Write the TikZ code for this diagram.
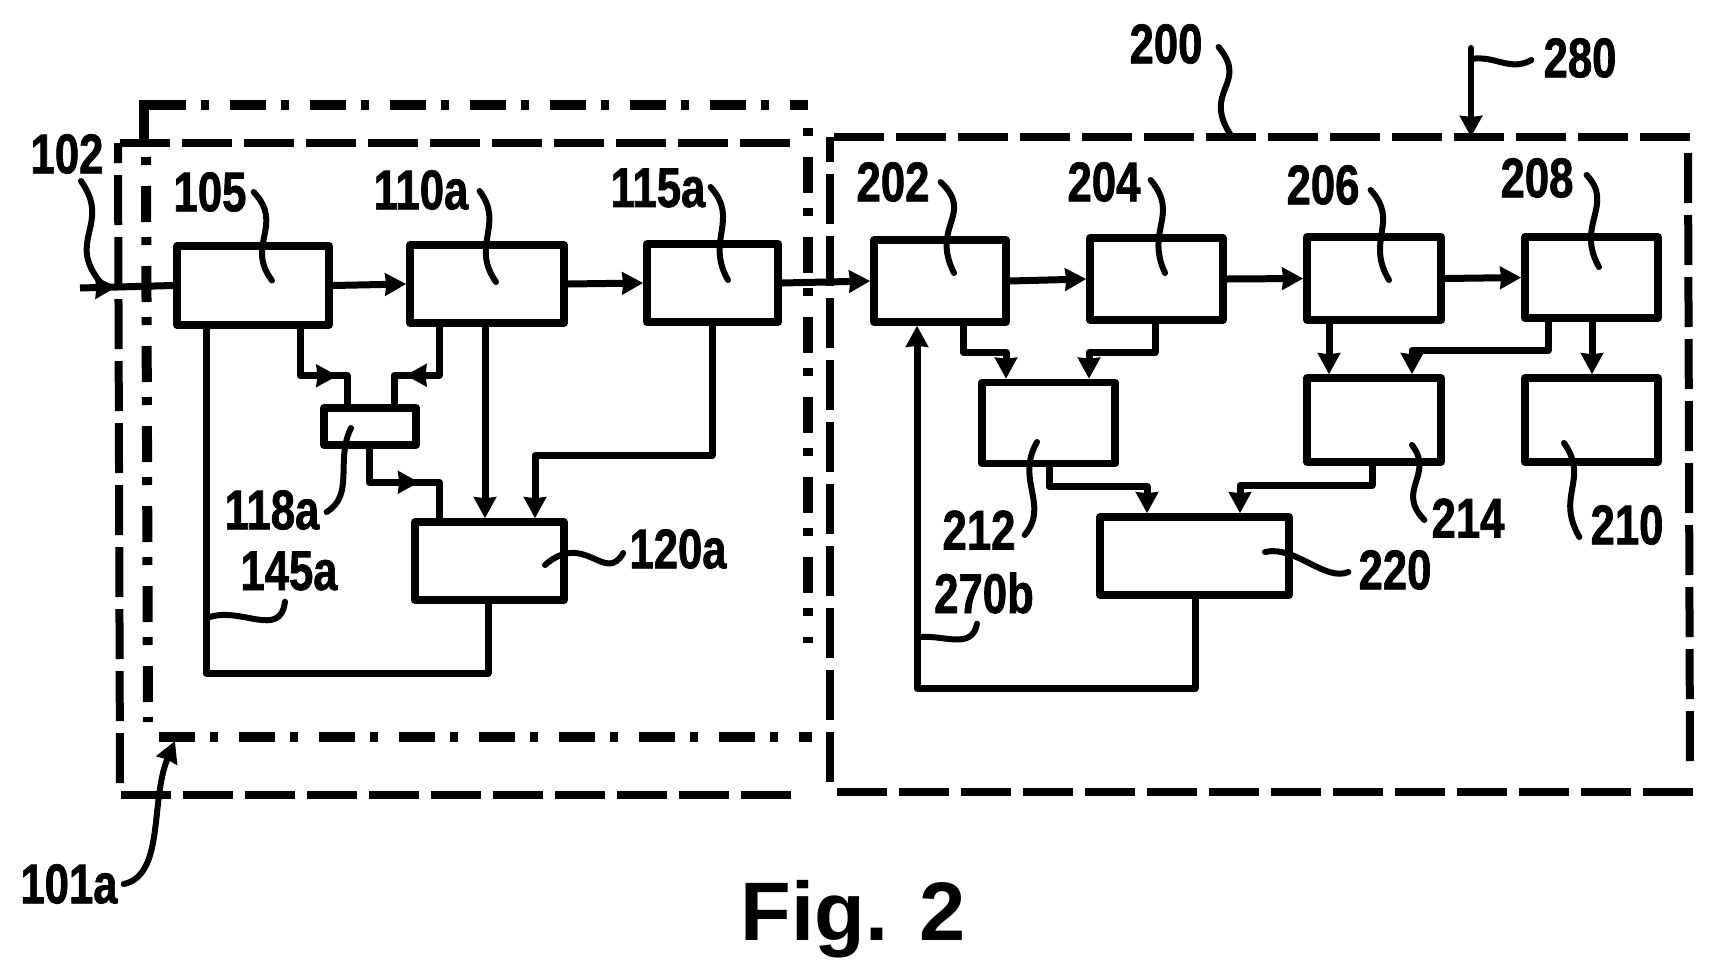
\documentclass[tikz,border=0pt]{standalone}
\usepackage{fontspec}
\setmainfont{Liberation Sans}
\newfontfamily\narrowfont[FakeStretch=0.78, FakeBold=1.2]{Liberation Sans}
\usetikzlibrary{arrows.meta, positioning, decorations.markings}

\begin{document}
\begin{tikzpicture} [x=1pt, y=-1pt,
			on grid,
			>={Stealth[length=21pt, width=22pt, inset=1pt]},
			fblock/.style 2 args={draw, line width=7.5pt, line join=round, inner sep=0pt,
				minimum width=#1pt, minimum height=#2pt},
			reflabel/.style={inner sep=0pt, font=\narrowfont\bfseries\fontsize{56}{56}\selectfont},
			conn/.style={line width=7pt, line join=round},
			lead/.style={line width=6pt, line cap=round},
			dashframe/.style={line width=8pt, dash pattern=on 50pt off 12pt},
			dotframe/.style={line width=10pt, dash pattern=on 36pt off 15pt on 8pt off 21pt},
			midtip/.style={postaction={decorate},
				decoration={markings, mark=at position #1 with {\arrow{>}}}},
		]
		\useasboundingbox (0,0) rectangle (1717,978);

		% Frame 200
		\coordinate (f1) at (1690,137);
		\coordinate (f2) at (830,137);
		\coordinate (f3) at (830,782);
		\coordinate (f4) at (837,792);
		\coordinate (f5) at (1694,792);
		\coordinate (f6) at (1688,153);
		\coordinate (f7) at (1690,768);
		\draw [dashframe] (f1) -- (f2);
		\draw [dashframe] (f3) -- (f2);
		\draw [dashframe] (f4) -- (f5);
		\draw [dashframe] (f6) -- (f7);
		% Frame 101
		\coordinate (a1) at (790,143);
		\coordinate (a2) at (118,143);
		\coordinate (a3) at (120,783);
		\coordinate (a4) at (121,795);
		\coordinate (a5) at (794,795);
		\draw [dashframe] (a1) -- (a2);
		\draw [dashframe] (a3) -- (a2);
		\draw [dashframe] (a4) -- (a5);
		% Frame dots
		\coordinate (c1) at (144,143);
		\coordinate (c2) at (144,105);
		\coordinate (c3) at (150,105);
		\coordinate (c4) at (808,105);
		\coordinate (c5) at (808,128);
		\coordinate (c6) at (808,643);
		\coordinate (c7) at (159,737);
		\coordinate (c8) at (812,737);
		\coordinate (c9) at (146,157);
		\coordinate (c10) at (148,722);
		\draw [line width=10pt] (c1) -- (c2) -- (c3);
		\draw [dotframe] (c3) -- (c4);
		\draw [dotframe, dash phase=51pt] (c5) -- (c6);
		\draw [dotframe] (c7) -- (c8);
		\draw [dotframe, dash phase=51pt] (c9) -- (c10);

		% Blocks left
		\node (b105) [fblock={152}{79}] at (253,285.5) {};
		\node (b110a) [fblock={154}{78},
			above right = 1.5pt and 234pt of b105] {};
		\node (b115a) [fblock={131}{78},
			above right = 1pt and 225.5pt of b110a] {};
		\node (b118a) [fblock={92}{37},
			below right = 141pt and 117pt of b105] {};
		\node (b120a) [fblock={149}{78},
			below right = 277pt and 2.5pt of b110a] {};
		% Blocks right
		\node (b202) [fblock={132}{82},
			above right = 2pt and 227.5pt of b115a] {};
		\node (b204) [fblock={133}{82},
			above right = 2pt and 216.5pt of b202] {};
		\node (b206) [fblock={134}{83},
			above right = 0.5pt and 217.5pt of b204] {};
		\node (b208) [fblock={133}{81},
			above right = 1pt and 217.5pt of b206] {};
		\node (b212) [fblock={133}{81},
			below right = 142pt and 108.5pt of b202] {};
		\node (b214) [fblock={134}{84},
			below = 141.5pt of b206] {};
		\node (b210) [fblock={133}{84},
			below = 142.5pt of b208] {};
		\node (b220) [fblock={189}{78},
			below right = 133pt and 146pt of b212] {};

		% Labels
		\node (l102) [reflabel, above left = 131.5pt and 186pt of b105] {102};
		\node (l105) [reflabel, above left = 93.5pt and 43pt of b105] {105};
		\node (l110a) [reflabel, above left = 94pt and 66pt of b110a] {110a};
		\node (l115a) [reflabel, above left = 95pt and 54.5pt of b115a] {115a};
		\node (l118a) [reflabel, below left = 83.5pt and 98pt of b118a] {118a};
		\node (l120a) [reflabel, above right = 12pt and 188.5pt of b120a] {120a};
		\node (l145a) [reflabel, below left = 10pt and 200.5pt of b120a] {145a};
		\node (l101a) [reflabel] at (69,884) {101a};
		\node (l200) [reflabel, above right = 235pt and 9.5pt of b204] {200};
		\node (l280) [reflabel, above left = 219.5pt and 11.5pt of b208] {280};
		\node (l202) [reflabel, above left = 99pt and 47pt of b202] {202};
		\node (l204) [reflabel, above left = 97pt and 52.5pt of b204] {204};
		\node (l206) [reflabel, above left = 93.5pt and 51pt of b206] {206};
		\node (l208) [reflabel, above left = 99.5pt and 54.5pt of b208] {208};
		\node (l212) [reflabel, below left = 107pt and 69.5pt of b212] {212};
		\node (l214) [reflabel, below right = 98pt and 94pt of b214] {214};
		\node (l210) [reflabel, below right = 105pt and 35.5pt of b210] {210};
		\node (l220) [reflabel, below right = 14pt and 200.5pt of b220] {220};
		\node (l270b) [reflabel, below left = 37pt and 210.5pt of b220] {270b};
		\node (fig) [anchor=base, font=\bfseries\fontsize{83}{83}\selectfont, inner sep=0pt]
			at (853,940) {Fig. 2};

		% Arrows
		\coordinate (c102) at (80,288);
		\coordinate (t101) at (175,741);
		\coordinate (t280) at (1471,48);
		\draw [conn, midtip=0.39] (c102) -- (b105.west);
		\path [conn, ->]
		(b105.east) edge (b110a.west)
		(b110a.east) edge (b115a.west)
		(b115a.east) edge (b202.west)
		(b202.east) edge (b204.west)
		(b204.east) edge (b206.west)
		(b206.east) edge (b208.west)
		([xshift=-2pt]b110a.south) edge ([xshift=-4.5pt]b120a.north)
		([xshift=-45pt]b206.south) edge ([xshift=-45pt]b214.north)
		([xshift=0.5pt]b208.south) edge ([xshift=0.5pt]b210.north)
		;
		\draw [conn, midtip=0.69] ([xshift=47pt]b105.south) -- ++(0,47) -| ([xshift=-23pt]b118a.north);
		\draw [conn, midtip=0.67] ([xshift=-48pt]b110a.south) -- ++(0,48.5) -| ([xshift=24pt]b118a.north);
		\draw [conn, midtip=0.6] ([xshift=-1pt]b118a.south) -- ++(0,33.5) -| ([xshift=-50.5pt]b120a.north);
		\draw [conn, ->] ([xshift=-0.5pt]b115a.south) -- ++(0,129.5) -| ([xshift=45.5pt]b120a.north);
		\draw [conn] ([xshift=-47pt]b105.south) -- ++(0,344.5) -| ([xshift=-1.5pt]b120a.south);
		\draw [conn, ->] ([xshift=23pt]b202.south) -- ++(0,26.5) -| ([xshift=-42.5pt]b212.north);
		\draw [conn, ->] ([xshift=-1.5pt]b204.south) -- ++(0,28.5) -| ([xshift=40.5pt]b212.north);
		\draw [conn, ->] ([xshift=-43.5pt]b208.south) -- ++(0,28.5) -| ([xshift=38pt]b214.north);
		\draw [conn, ->] ([xshift=0.5pt]b212.south) -- ++(0,19.5) -| ([xshift=-47.5pt]b220.north);
		\draw [conn, ->] ([xshift=-2pt]b214.south) -- ++(0,19.5) -| ([xshift=45.5pt]b220.north);
		\draw [conn, ->] ([xshift=0.5pt]b220.south) -- ++(0,89.5) -| ([xshift=-23pt]b202.south);

		% Leaders
		\draw [lead] ([shift={(14,7)}]l102.south) .. controls (112,225) and (65,240) .. ([shift={(21,-5)}]c102);
		\draw [lead] ([xshift=7pt]l105.east) .. controls (285,225) and (245,245) .. ([shift={(19,-5)}]b105.center);
		\draw [lead] ([shift={(11,1)}]l110a.east) .. controls (505,225) and (470,245) .. ([shift={(9,-2)}]b110a.center);
		\draw [lead] ([shift={(5,-1)}]l115a.east) .. controls (740,220) and (705,240) .. ([shift={(15.5,-3)}]b115a.center);
		\draw [lead] ([shift={(7,2)}]l118a.east) .. controls (355,495) and (335,460) .. ([shift={(-19,1.5)}]b118a.center);
		\draw [lead] ([shift={(-6,4)}]l120a.west) .. controls (605,585) and (585,530) .. ([shift={(55.5,4)}]b120a.center);
		\draw [lead] ([shift={(-4,11)}]l145a.south) .. controls (280,640) and (240,605) .. ([shift={(-82,47)}]l145a.center);
		\draw [lead, ->] ([xshift=6pt]l101a.east) .. controls (165,875) and (150,800) .. (t101);
		\draw [lead] ([shift={(16,3)}]l200.east) .. controls (1250,85) and (1200,90) .. ([xshift=402pt]f2);
		\draw [lead, ->] (t280) -- (t280 |- f2);
		\draw [lead] ([shift={(-12,2)}]l280.west) .. controls (1510,72) and (1495,55) .. ([shift={(0,11)}]t280);
		\draw [lead] ([xshift=11pt]l202.east) .. controls (975,215) and (930,225) .. ([shift={(14,-8)}]b202.center);
		\draw [lead] ([shift={(10,-2)}]l204.east) .. controls (1180,215) and (1145,230) .. ([shift={(8.5,-6)}]b204.center);
		\draw [lead] ([shift={(11,5)}]l206.east) .. controls (1400,222) and (1365,240) .. ([shift={(15,1.5)}]b206.center);
		\draw [lead] ([shift={(13,-3)}]l208.east) .. controls (1615,205) and (1575,225) .. ([shift={(7.5,-10.5)}]b208.center);
		\draw [lead] ([shift={(9,5)}]l212.east) .. controls (1050,505) and (1015,480) .. ([shift={(-11.5,19)}]b212.center);
		\draw [lead] ([shift={(-7,2)}]l214.west) .. controls (1395,490) and (1435,475) .. ([shift={(38,25)}]b214.center);
		\draw [lead] ([shift={(-11,12)}]l210.west) .. controls (1555,495) and (1590,480) .. ([shift={(-27.5,23)}]b210.center);
		\draw [lead] ([shift={(-10,2)}]l220.west) .. controls (1325,582) and (1295,545) .. ([shift={(70.5,-4)}]b220.center);
		\draw [lead] ([shift={(-7,10)}]l270b.south) .. controls (972,650) and (945,635) .. ([shift={(-64,44)}]l270b.center);
	\end{tikzpicture}
\end{document}
